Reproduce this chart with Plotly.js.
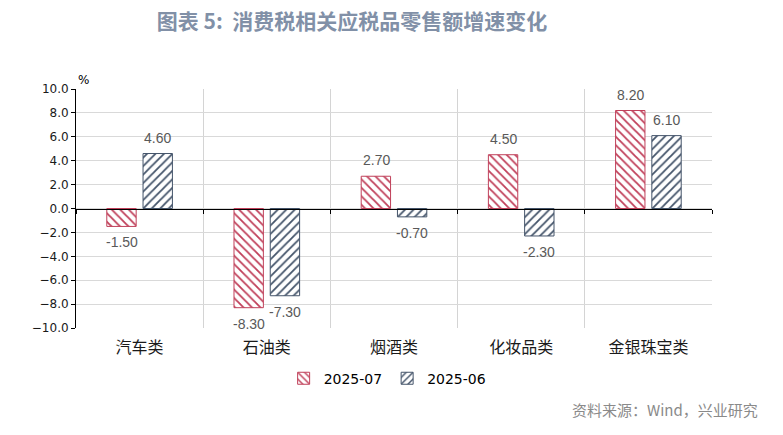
<!DOCTYPE html>
<html>
<head>
<meta charset="utf-8">
<script src="https://cdn.plot.ly/plotly-3.0.1.min.js"></script>
<style>
  html, body { margin: 0; padding: 0; background: #fff; }
  #chart { width: 783px; height: 435px; }
</style>
</head>
<body>
<div id="chart"></div>
<script>
var categories = ['汽车类', '石油类', '烟酒类', '化妆品类', '金银珠宝类'];
var jul2025 = [-1.5, -8.3, 2.7, 4.5, 8.2];
var jun2025 = [4.6, -7.3, -0.7, -2.3, 6.1];
var seriesNames = ['2025-07', '2025-06'];

var cjk = '"Noto Sans CJK SC", "Noto Sans", sans-serif';
var red = '#c0405a';
var blue = '#44546a';

function barTrace(vals, name, color, shape) {
    return {
        type: 'bar',
        x: categories,
        y: vals,
        name: name,
        marker: {
            color: '#ffffff',
            line: { color: color, width: 1 },
            pattern: { shape: shape, fgcolor: color, bgcolor: '#ffffff', size: 6, solidity: 0.3 }
        },
        hoverinfo: 'x+y'
    };
}

var data = [
    barTrace(jul2025, seriesNames[0], red, '\\'),
    barTrace(jun2025, seriesNames[1], blue, '/')
];

// value labels, a bit away from the bar ends
var labels = [];
[[jul2025, -18], [jun2025, 18]].forEach(function (s) {
    s[0].forEach(function (v, i) {
        labels.push({
            x: categories[i], y: v, xref: 'x', yref: 'y',
            xshift: s[1], yshift: v >= 0 ? 16 : -16,
            text: v.toFixed(2), showarrow: false,
            xanchor: 'center', yanchor: 'middle',
            font: { family: 'Liberation Sans, Arial, sans-serif', size: 14, color: '#595959' }
        });
    });
});

var layout = {
    width: 783,
    height: 435,
    paper_bgcolor: '#ffffff',
    plot_bgcolor: '#ffffff',
    margin: { l: 76, r: 71, t: 89, b: 107 },
    bargap: 0.43,
    bargroupgap: 0.19,
    showlegend: true,
    legend: {
        orientation: 'h',
        x: 0.49, xanchor: 'center', xref: 'paper',
        y: -0.145, yanchor: 'top',
        font: { family: 'DejaVu Sans, sans-serif', size: 14, color: '#000' },
        itemwidth: 30,
        tracegroupgap: 0
    },
    title: {
        text: '<b>图表 5:  消费税相关应税品零售额增速变化</b>',
        font: { family: cjk, size: 21, color: '#8190a7' },
        x: 0.434, xanchor: 'center', xref: 'paper',
        y: 0.95, yanchor: 'middle'
    },
    xaxis: {
        type: 'category',
        showline: false,
        ticks: '',
        showgrid: true,
        gridcolor: '#d4d4d4',
        gridwidth: 1,
        tickson: 'boundaries',
        ticklabelstandoff: 8,
        tickfont: { family: cjk, size: 16, color: '#1a1a1a' }
    },
    xaxis2: {
        type: 'category',
        matches: 'x',
        overlaying: 'x',
        anchor: 'free',
        position: 0.5,
        side: 'bottom',
        showline: true,
        linecolor: '#000',
        linewidth: 1,
        ticks: 'outside',
        ticklen: 4,
        tickcolor: '#000',
        tickson: 'boundaries',
        showticklabels: false,
        showgrid: false
    },
    yaxis: {
        range: [-10, 10],
        dtick: 2,
        tick0: 0,
        tickformat: '.1f',
        showline: true,
        linecolor: '#000',
        linewidth: 1,
        ticks: 'outside',
        ticklen: 4,
        tickcolor: '#000',
        showgrid: true,
        gridcolor: '#d9d9d9',
        zeroline: false,
        tickfont: { family: 'DejaVu Sans, sans-serif', size: 12, color: '#1a1a1a' }
    },
    annotations: labels.concat([
        {
            text: '%', xref: 'paper', yref: 'paper', x: 0, y: 1,
            xanchor: 'left', yanchor: 'bottom', showarrow: false,
            font: { family: 'DejaVu Sans, sans-serif', size: 12, color: '#000' }
        },
        {
            text: '资料来源：Wind，兴业研究', xref: 'paper', yref: 'paper',
            x: 1.0755, y: -0.34, xanchor: 'right', yanchor: 'middle', showarrow: false,
            font: { family: cjk, size: 15, color: '#8a8a8a' }
        }
    ])
};

// invisible trace so the zero-line axis gets drawn
data.push({
    type: 'bar', x: categories, y: categories.map(function () { return 0; }),
    xaxis: 'x2', showlegend: false, hoverinfo: 'skip', marker: { color: 'rgba(0,0,0,0)' }
});

Plotly.newPlot('chart', data, layout, { displayModeBar: false });
</script>
</body>
</html>
